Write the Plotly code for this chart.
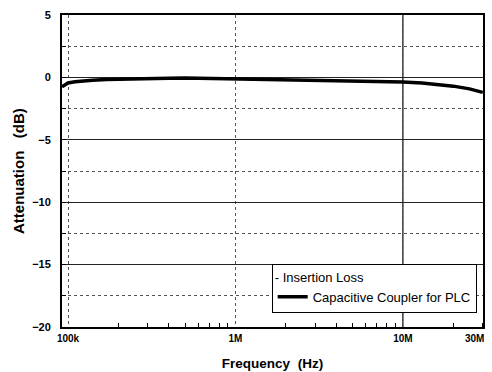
import math
import plotly.graph_objects as go

freq_hz = [92e3, 95e3, 100e3, 110e3, 120e3, 140e3, 170e3, 200e3, 300e3, 400e3, 500e3, 700e3,
           1e6, 1.5e6, 2e6, 3e6, 5e6, 7e6, 10e6, 13e6, 16e6, 20e6, 25e6, 30e6]
atten_db = [-0.75, -0.6, -0.45, -0.35, -0.28, -0.22, -0.17, -0.14, -0.1, -0.07, -0.05, -0.08,
            -0.1, -0.12, -0.15, -0.2, -0.25, -0.3, -0.36, -0.45, -0.55, -0.7, -0.92, -1.2]
x_tickvals = [1e5, 1e6, 1e7, 3e7]
x_ticktext = ["100k", "1M", "10M", "30M"]
x_minor_vals = [m * d for d in (1e5, 1e6, 1e7) for m in range(2, 10) if m * d <= 3e7]
y_tickvals = [5, 0, -5, -10, -15, -20]

font = "Liberation Sans, Arial, sans-serif"
tickfont = dict(size=10, family=font, weight="bold")

fig = go.Figure()
fig.add_trace(go.Scatter(x=freq_hz, y=atten_db, mode="lines", name="Capacitive Coupler for PLC",
                         line=dict(color="black", width=3.5)))

annotations = [dict(text="Attenuation\u00a0\u00a0\u00a0(dB)", textangle=-90, xref="paper", yref="paper",
                    x=(18 - 62) / 421, y=0.5, xanchor="center", yanchor="middle", showarrow=False,
                    font=dict(size=15, family=font, weight="bold"))]
# last tick label (at the right edge) drawn as an annotation so it can sit inside the page
annotations.append(dict(text=x_ticktext[-1], xref="x", yref="paper", x=math.log10(x_tickvals[-1]), y=0,
                        xanchor="right", yanchor="top", xshift=3, yshift=-4, showarrow=False, font=tickfont))

fig.update_layout(
    width=492, height=372,
    margin=dict(l=62, r=9, t=15, b=45),
    paper_bgcolor="white", plot_bgcolor="white",
    font=dict(family=font, color="black"),
    showlegend=True,
    legend=dict(x=0.985, y=0.045, xanchor="right", yanchor="bottom",
                bgcolor="white", bordercolor="black", borderwidth=1,
                title=dict(text="- Insertion Loss", font=dict(size=13, family=font)),
                font=dict(size=13, family=font), itemwidth=30, tracegroupgap=0),
    annotations=annotations,
)
fig.update_xaxes(type="log", range=[4.964, 7.4785], tickvals=x_tickvals[:-1], ticktext=x_ticktext[:-1],
                 tickfont=tickfont,
                 showline=True, linecolor="black", linewidth=2, mirror=True,
                 showgrid=True, gridcolor="#555", griddash="dot", gridwidth=1,
                 ticks="", ticklen=0, automargin=False, ticklabelstandoff=1,
                 minor=dict(tickmode="array", tickvals=x_minor_vals, ticks="inside", ticklen=4,
                            tickcolor="black", showgrid=False),
                 title=dict(text="Frequency\u00a0\u00a0(Hz)", font=dict(size=13.5, family=font, weight="bold"), standoff=16),
                 zeroline=False)
fig.update_yaxes(range=[-20, 5], tickvals=y_tickvals,
                 tickfont=dict(size=11, family=font, weight="bold"),
                 showline=True, linecolor="black", linewidth=2, mirror=True,
                 showgrid=True, gridcolor="#222", gridwidth=1,
                 ticks="inside", ticklen=4, tickcolor="black", automargin=False, ticklabelstandoff=7,
                 minor=dict(dtick=2.5, ticks="inside", ticklen=4, tickcolor="black",
                            showgrid=True, gridcolor="#555", griddash="dot", gridwidth=1),
                 zeroline=False)
fig.add_shape(type="line", xref="x", yref="paper", x0=1e7, x1=1e7, y0=0, y1=1,
              line=dict(color="black", width=1.2), layer="below")

fig.write_html("out.html", config={"displayModeBar": False},
               post_script="document.body.style.margin='0';")
